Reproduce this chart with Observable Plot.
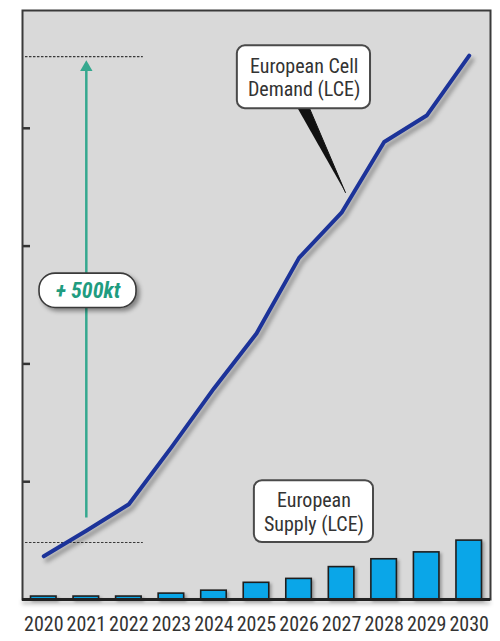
<!DOCTYPE html>
<html>
<head>
<meta charset="utf-8">
<script src="https://cdn.jsdelivr.net/npm/d3@7"></script>
<script src="https://cdn.jsdelivr.net/npm/@observablehq/plot@0.6"></script>
<style>
  html, body { margin: 0; padding: 0; background: #ffffff; }
  #chart svg { display: block; }
</style>
</head>
<body>
<div id="chart"></div>
<script>
// Years on the horizontal axis
const years = [2020, 2021, 2022, 2023, 2024, 2025, 2026, 2027, 2028, 2029, 2030];
// European cell demand, kt LCE
const demandKt = [44, 70, 97, 155, 215, 271, 348, 394, 466, 493, 554];
// European supply, kt LCE
const supplyKt = [3, 3, 3, 6, 9, 17, 21, 33, 41, 48, 60];
// Unlabelled ticks on the value axis (kt)
const yTicks = [120, 240, 360, 480];
// Reference levels bracketing the demand growth (kt)
const gapLevels = [58, 553];
const gapLabel = "+ 500kt";

const FONT = "'Roboto Condensed', 'Open Sans', sans-serif";
const TEAL = "#35a88f";
const TEAL_TEXT = "#1f9c80";
const INK = "#333333";

const demand = years.map((year, i) => ({year, value: demandKt[i]}));
const supply = years.map((year, i) => ({year, value: supplyKt[i]}));

// Callout boxes, positioned in data space
const demandBox = [{x1: 2024.55, x2: 2027.68, y1: 500, y2: 564, cx: 2026.12, cy: 532, text: "European Cell\nDemand (LCE)"}];
const supplyBox = [{x1: 2024.95, x2: 2027.75, y1: 58, y2: 121, cx: 2026.35, cy: 89.5, text: "European\nSupply (LCE)"}];
const gapPill = [{x1: 2019.9, x2: 2022.18, y1: 297, y2: 332, cx: 2021.04, cy: 314.5, text: gapLabel}];
// Tapered pointer from the demand callout down to the line
const pointer = [
  {x: 2025.96, y: 501},
  {x: 2026.24, y: 501},
  {x: 2027.09, y: 414.6}
];

const chart = Plot.plot({
  width: 500,
  height: 641,
  marginTop: 10,
  marginRight: 10,
  marginBottom: 42,
  marginLeft: 22,
  style: {background: "#ffffff", fontFamily: FONT},
  x: {domain: [2019.5, 2030.5], axis: null},
  y: {domain: [0, 600], axis: null},
  marks: [
    Plot.frame({fill: "#d9d9d9", stroke: null}),

    // growth bracket
    Plot.ruleY(gapLevels, {x1: 2019.57, x2: 2022.34, stroke: "#3a3a3a", strokeWidth: 1.1, strokeDasharray: "2.5,1.5"}),
    Plot.ruleX([{x: 2021, y1: gapLevels[0] + 25, y2: gapLevels[1] - 12}], {x: "x", y1: "y1", y2: "y2", stroke: TEAL, strokeWidth: 2.5}),
    Plot.dot([{x: 2021, y: gapLevels[1] - 11}], {x: "x", y: "y", symbol: "triangle", r: 4.6, fill: TEAL, stroke: null}),

    // supply bars
    Plot.rectY(supply, {x1: d => d.year - 0.3, x2: d => d.year + 0.3, y: "value", fill: "#0aa6e8", stroke: "#1e1e1e", strokeWidth: 1.6, ariaDescription: "supply"}),

    // demand line
    Plot.line(demand, {x: "year", y: "value", stroke: "#1c3399", strokeWidth: 4, strokeLinejoin: "round", strokeLinecap: "round", ariaDescription: "demand"}),

    // demand callout
    Plot.line(pointer, {x: "x", y: "y", fill: "#111", stroke: "#111", strokeWidth: 1}),
    Plot.rect(demandBox, {x1: "x1", x2: "x2", y1: "y1", y2: "y2", rx: 8, fill: "#ffffff", stroke: "#4a4a4a", strokeWidth: 2}),
    Plot.text(demandBox, {x: "cx", y: "cy", text: "text", fontSize: 20, lineHeight: 1.15, fill: INK, fontFamily: FONT}),

    // supply callout
    Plot.rect(supplyBox, {x1: "x1", x2: "x2", y1: "y1", y2: "y2", rx: 8, fill: "#ffffff", stroke: "#4a4a4a", strokeWidth: 2}),
    Plot.text(supplyBox, {x: "cx", y: "cy", text: "text", fontSize: 20, lineHeight: 1.2, fill: INK, fontFamily: FONT}),

    // growth label pill
    Plot.rect(gapPill, {x1: "x1", x2: "x2", y1: "y1", y2: "y2", rx: 16, fill: "#ffffff", stroke: "#3a3a3a", strokeWidth: 1.6, ariaDescription: "pill"}),
    Plot.text(gapPill, {x: "cx", y: "cy", text: "text", fontSize: 22, fontWeight: "bold", fontStyle: "italic", fill: TEAL_TEXT, fontFamily: FONT}),

    // value-axis ticks pointing into the panel
    Plot.tickY(yTicks, {y: d => d, stroke: "#333", strokeWidth: 2.5, insetRight: 460}),

    // panel border and baseline
    Plot.frame({stroke: "#3a3a3a", strokeWidth: 2}),
    Plot.ruleY([0], {stroke: "#222", strokeWidth: 3, ariaDescription: "baseline"}),

    Plot.axisX({ticks: years, tickFormat: d => String(d), tickSize: 0, tickPadding: 17, fontSize: 20, fill: INK, fontFamily: FONT, label: null})
  ]
});

document.getElementById("chart").appendChild(chart);

// soft drop shadows
const shadow = (name, css) => chart.querySelectorAll(`g[aria-description="${name}"]`).forEach(g => g.style.filter = css);
shadow("demand", "drop-shadow(3px 4px 2px rgba(0,0,0,0.35))");
shadow("supply", "drop-shadow(2px 2px 1.5px rgba(0,0,0,0.3))");
shadow("pill", "drop-shadow(3px 3px 2px rgba(0,0,0,0.4))");
shadow("baseline", "drop-shadow(0px 3px 2px rgba(0,0,0,0.3))");
</script>
</body>
</html>
